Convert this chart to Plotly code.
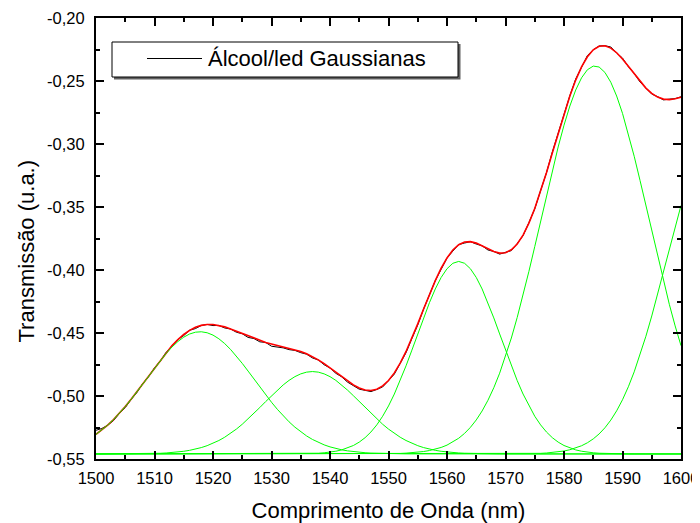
import numpy as np
import plotly.graph_objects as go

# ---- data ----
wavelength = list(range(1500, 1601))  # nm, 1 nm step
transmission = [
    -0.5272, -0.5258, -0.5232, -0.5195, -0.5138, -0.5092, -0.5028, -0.4972, -0.4901, -0.4846,
    -0.4776, -0.4722, -0.4652, -0.4609, -0.4552, -0.4520, -0.4478, -0.4465, -0.4440, -0.4432,
    -0.4441, -0.4440, -0.4460, -0.4468, -0.4494, -0.4506, -0.4535, -0.4544, -0.4570, -0.4575,
    -0.4605, -0.4610, -0.4618, -0.4632, -0.4638, -0.4656, -0.4668, -0.4698, -0.4714, -0.4752,
    -0.4778, -0.4820, -0.4848, -0.4890, -0.4915, -0.4946, -0.4955, -0.4965, -0.4948, -0.4928,
    -0.4878, -0.4826, -0.4741, -0.4656, -0.4544, -0.4436, -0.4310, -0.4203, -0.4084, -0.3995,
    -0.3905, -0.3850, -0.3798, -0.3786, -0.3775, -0.3794, -0.3808, -0.3841, -0.3853, -0.3874,
    -0.3862, -0.3846, -0.3790, -0.3728, -0.3624, -0.3515, -0.3370, -0.3229, -0.3064, -0.2915,
    -0.2752, -0.2617, -0.2484, -0.2388, -0.2298, -0.2252, -0.2222, -0.2220, -0.2230, -0.2278,
    -0.2318, -0.2386, -0.2440, -0.2508, -0.2552, -0.2604, -0.2624, -0.2650, -0.2644, -0.2640,
    -0.2625,
]

# Gaussian decomposition (fit parameters)
baseline = -0.546
peak_centers = [1517.8, 1537.0, 1562.0, 1585.3, 1606.0]
peak_widths = [9.3, 8.4, 7.2, 9.2, 8.5]        # sigma, nm
peak_amplitudes = [0.097, 0.0654, 0.1528, 0.308, 0.253]

legend_label = "Álcool/led Gaussianas"
x_title = "Comprimento de Onda (nm)"
y_title = "Transmissão (u.a.)"
x_tick_vals = [1500, 1510, 1520, 1530, 1540, 1550, 1560, 1570, 1580, 1590, 1600]
x_tick_text = ["1500", "1510", "1520", "1530", "1540", "1550", "1560", "1570", "1580", "1590", "1600"]
y_tick_vals = [-0.55, -0.50, -0.45, -0.40, -0.35, -0.30, -0.25, -0.20]
y_tick_text = ["-0,55", "-0,50", "-0,45", "-0,40", "-0,35", "-0,30", "-0,25", "-0,20"]

FONT = "Arial, 'Liberation Sans', sans-serif"

x = np.array(wavelength, dtype=float)
components = [baseline + a * np.exp(-(x - c) ** 2 / (2 * s ** 2))
              for c, s, a in zip(peak_centers, peak_widths, peak_amplitudes)]
fit = baseline + sum(comp - baseline for comp in components)

fig = go.Figure()
fig.add_trace(go.Scatter(x=wavelength, y=transmission, mode="lines", name=legend_label,
                         line=dict(color="black", width=1), showlegend=False))
fig.add_trace(go.Scatter(x=wavelength, y=fit, mode="lines", name="fit",
                         line=dict(color="#ff0000", width=1.6), showlegend=False))
for i, comp in enumerate(components):
    fig.add_trace(go.Scatter(x=wavelength, y=comp, mode="lines", name=f"G{i+1}",
                             line=dict(color="#00ff00", width=1), showlegend=False))

axis_common = dict(
    showline=True, linecolor="black", linewidth=2, mirror="allticks",
    ticks="inside", ticklen=8, tickwidth=1.5, tickcolor="black",
    showgrid=False, zeroline=False, automargin=False,
    ticklabeloverflow="allow",
    tickfont=dict(family=FONT, size=16.5, color="black"),
)

fig.update_xaxes(range=[1500, 1600], tickvals=x_tick_vals, ticktext=x_tick_text,
                 ticklabelstandoff=3,
                 minor=dict(dtick=5, ticklen=4, tickwidth=1.5, tickcolor="black", ticks="inside"),
                 title=dict(text=x_title, font=dict(family=FONT, size=22, color="black"),
                            standoff=19),
                 **axis_common)
fig.update_yaxes(range=[-0.55, -0.20], tickvals=y_tick_vals, ticktext=y_tick_text,
                 ticklabelstandoff=6,
                 minor=dict(dtick=0.025, tick0=-0.55, ticklen=4, tickwidth=1.5, tickcolor="black", ticks="inside"),
                 **axis_common)

# page body adds an 8 px offset; the figure is sized so the plot area lands at the
# reference position (96..681 x 18..459 in the window)
OFF = 8
W, H = 700 - OFF, 523 - OFF
L, R, T, B = 96 - OFF, 681 - OFF, 18 - OFF, 459 - OFF   # plot area in figure px

def px_x(p):   # window px -> paper x
    return (p - OFF - L) / (R - L)
def px_y(p):   # window px -> paper y
    return (B - (p - OFF)) / (B - T)

# y-axis title (placed as in the reference, slightly below the axis centre)
fig.add_annotation(xref="paper", yref="paper", x=px_x(26), y=px_y(251.5),
                   xanchor="center", yanchor="middle", showarrow=False, textangle=-90,
                   text=y_title, font=dict(family=FONT, size=22, color="black"))

# ---- legend box drawn in the Origin style (box with drop shadow) ----
fig.add_shape(type="rect", xref="paper", yref="paper",
              x0=px_x(114), x1=px_x(460.5), y0=px_y(79.5), y1=px_y(44),
              line=dict(width=0), fillcolor="#606060", layer="above")
fig.add_shape(type="rect", xref="paper", yref="paper",
              x0=px_x(112), x1=px_x(458), y0=px_y(77), y1=px_y(42),
              line=dict(color="black", width=1), fillcolor="white", layer="above")
fig.add_shape(type="line", xref="paper", yref="paper",
              x0=px_x(147), x1=px_x(202), y0=px_y(58.5), y1=px_y(58.5),
              line=dict(color="black", width=1), layer="above")
fig.add_annotation(xref="paper", yref="paper", x=px_x(206), y=px_y(59),
                   xanchor="left", yanchor="middle", showarrow=False,
                   text=legend_label, font=dict(family=FONT, size=22, color="black"))

fig.update_layout(
    width=W, height=H,
    margin=dict(l=L, r=W - R, t=T, b=H - B, autoexpand=False),
    paper_bgcolor="white", plot_bgcolor="white",
    font=dict(family=FONT, color="black"),
    showlegend=False,
)

fig.write_html("out.html")
